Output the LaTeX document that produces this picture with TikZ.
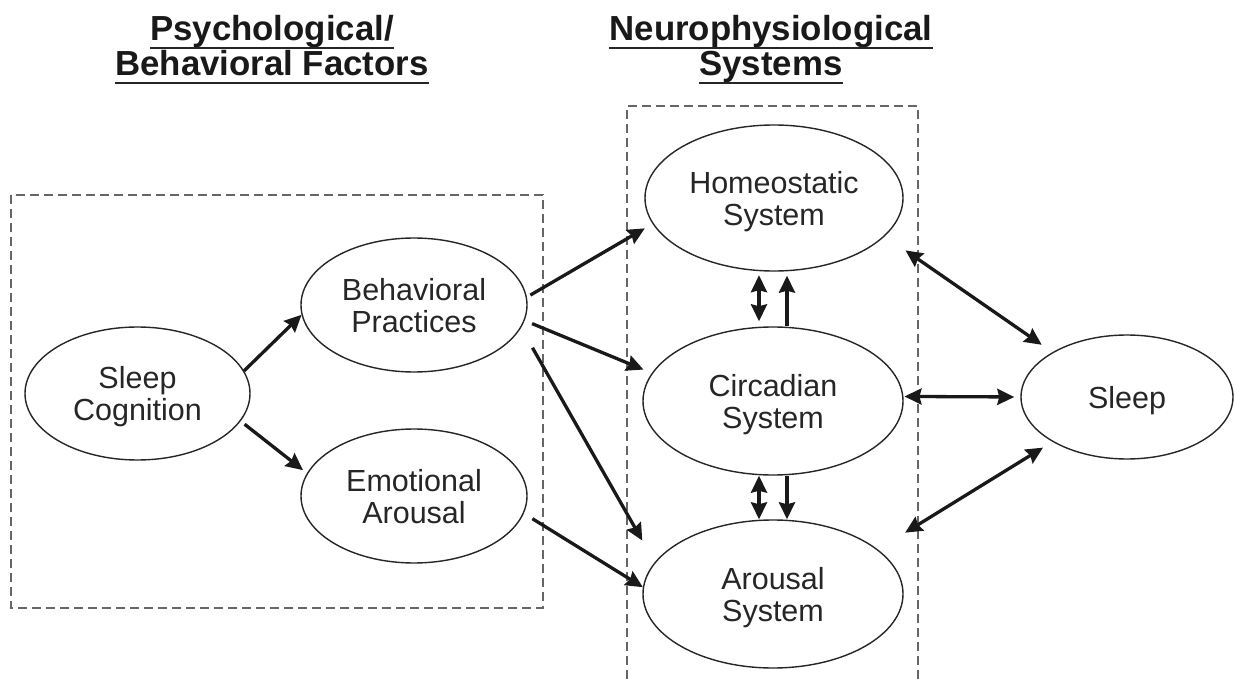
\documentclass[tikz,border=0pt]{standalone}
\usepackage{fontspec}
\setmainfont{Liberation Sans}
\usetikzlibrary{arrows.meta,shapes.geometric}
\begin{document}
\begin{tikzpicture}[x=1pt,y=-1pt,
  ell/.style={ellipse, draw=black!85, line width=1.4pt, inner sep=0pt,
    align=center, text=black!85, text depth=0pt,
    font=\fontsize{30.5}{32}\selectfont},
  ttl/.style={inner sep=0pt, anchor=base, text=black!90,
    font=\fontsize{34.8}{35}\selectfont\bfseries},
  uline/.style={line width=2pt, black!85},
  boxline/.style={black!60, line width=1.6pt, dash pattern=on 9pt off 5pt},
  arr/.style={line width=3.3pt, black!90,
    -{Stealth[length=17pt,width=16pt,inset=2pt]}},
  dbl/.style={line width=3.3pt, black!90,
    {Stealth[length=17pt,width=16pt,inset=2pt]}-{Stealth[length=17pt,width=16pt,inset=2pt]}}]

\useasboundingbox[fill=white] (0,0) rectangle (1235,679);

% group frames
\draw[boxline] (11,195) rectangle (543,608);
\draw[boxline] (627,679) -- (627,106) -- (918,106) -- (918,679);

% headings
\node[ttl] (t1) at (272,40.7) {Psychological/};
\node[ttl] (t2) at (272,76) {Behavioral Factors};
\node[ttl] (t3) at (771,40.7) {Neurophysiological};
\node[ttl] (t4) at (771,76) {Systems};
\foreach \t in {t1,t2,t3,t4}
  \draw[uline] ([yshift=-7.5pt]\t.base west) -- ([yshift=-7.5pt]\t.base east);

% factors
\node[ell, minimum width=225pt, minimum height=133pt] (sc) at (137.5,393.5) {Sleep\\Cognition};
\node[ell, minimum width=226pt, minimum height=134pt] (bp) at (414,305) {Behavioral\\Practices};
\node[ell, minimum width=226pt, minimum height=134pt] (ea) at (414,496) {Emotional\\Arousal};

% systems
\node[ell, minimum width=258pt, minimum height=146pt] (hs) at (774,198) {Homeostatic\\System};
\node[ell, minimum width=260pt, minimum height=148pt] (cs) at (773,401) {Circadian\\System};
\node[ell, minimum width=260pt, minimum height=148pt] (as) at (773,594) {Arousal\\System};
\node[ell, minimum width=212pt, minimum height=124pt] (sl) at (1127,397) {Sleep};

% links out of the psychological factors
\draw[arr] (sc.12) -- (bp.185);
\draw[arr, shorten <=5pt, shorten >=5pt] (sc.345) -- (ea.168);
\draw[arr, shorten <=4pt, shorten >=9pt] (bp.4) -- (hs.192);
\draw[arr, shorten <=8pt, shorten >=9pt] (bp.352) -- (cs.167);
\draw[arr, shorten <=23pt, shorten >=25pt] (bp.348) -- (as.165);
\draw[arr, shorten <=10pt] (ea.351) -- (as.177);

% links among the systems
\coordinate (vl) at (759,0);
\coordinate (vr) at (787,0);
\draw[dbl, shorten <=3.5pt, shorten >=5pt] (hs.south -| vl) -- (cs.north -| vl);
\draw[arr, shorten >=4pt] (cs.north -| vr) -- (hs.south -| vr);
\draw[dbl] (cs.south -| vl) -- (as.north -| vl);
\draw[arr] (cs.south -| vr) -- (as.north -| vr);

% links to sleep
\draw[dbl, shorten <=25pt, shorten >=13pt] (hs.341) -- (sl.149);
\draw[dbl, shorten <=1pt, shorten >=6pt] (cs.2) -- (sl.180);
\draw[dbl, shorten <=32pt, shorten >=11pt] (as.23) -- (sl.211);
\end{tikzpicture}
\end{document}
